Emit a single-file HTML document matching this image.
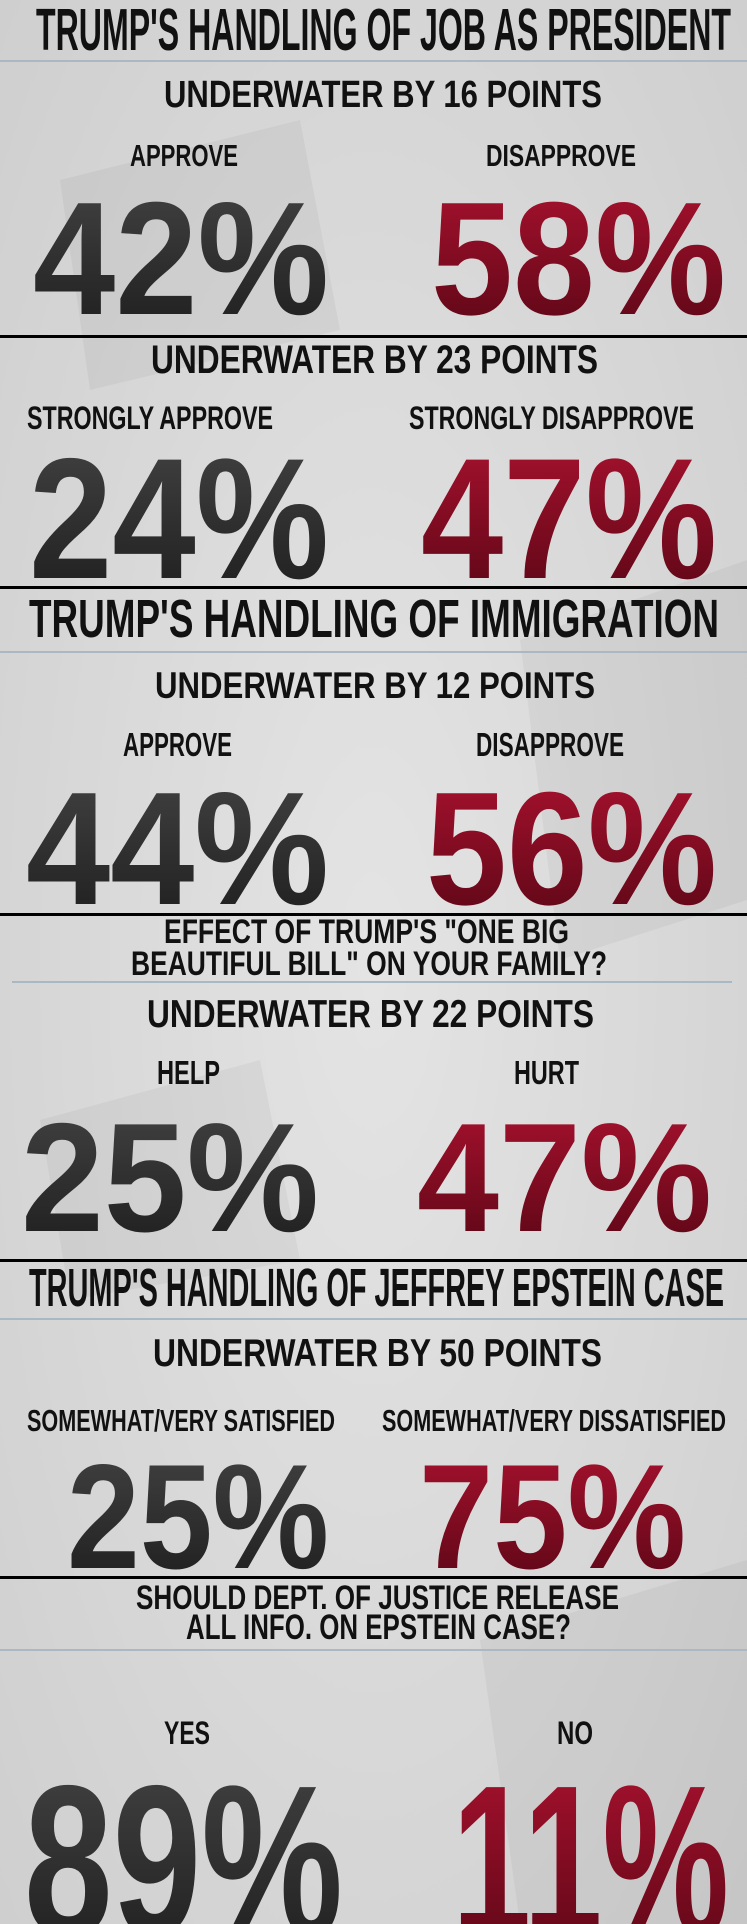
<!DOCTYPE html>
<html><head><meta charset="utf-8"><style>
html,body{margin:0;padding:0;background:#d8d8d8;}
svg{display:block;}
text{font-family:"Liberation Sans Narrow","Liberation Sans",sans-serif;font-weight:bold;}
</style></head><body>
<svg width="747" height="1924" viewBox="0 0 747 1924" xmlns="http://www.w3.org/2000/svg">
<defs>
<linearGradient id="dk" x1="0" y1="0" x2="0" y2="1"><stop offset="0" stop-color="#444"/><stop offset="1" stop-color="#1c1c1c"/></linearGradient>
<linearGradient id="rd" x1="0" y1="0" x2="0" y2="1"><stop offset="0" stop-color="#ad1230"/><stop offset="1" stop-color="#560614"/></linearGradient>
<radialGradient id="bg" cx="0.5" cy="0.5" r="0.7"><stop offset="0" stop-color="#e4e4e4"/><stop offset="1" stop-color="#cfcfcf"/></radialGradient>
</defs>
<rect width="747" height="1924" fill="url(#bg)"/>
<g fill="#000" opacity="0.04">
<polygon points="60,180 300,120 340,330 90,390"/>
<polygon points="520,640 747,560 747,900 560,960"/>
<polygon points="40,1120 260,1060 300,1260 70,1300"/>
<polygon points="480,1640 747,1560 747,1924 520,1924"/>
</g>
<!-- lines -->
<g fill="#aab8c4">
<rect x="0" y="60" width="747" height="2"/>
<rect x="0" y="651" width="747" height="2"/>
<rect x="12" y="981" width="720" height="2"/>
<rect x="0" y="1318" width="747" height="2"/>
<rect x="0" y="1649" width="747" height="2"/>
</g>
<g fill="#000">
<rect x="0" y="335" width="747" height="3"/>
<rect x="0" y="586" width="747" height="3"/>
<rect x="0" y="913" width="747" height="3"/>
<rect x="0" y="1259" width="747" height="3"/>
<rect x="0" y="1576" width="747" height="3"/>
</g>
<g fill="#111" lengthAdjust="spacingAndGlyphs">
<text x="36" y="50" font-size="59" textLength="695" lengthAdjust="spacingAndGlyphs">TRUMP'S HANDLING OF JOB AS PRESIDENT</text>
<text x="164" y="107" font-size="38" textLength="438" lengthAdjust="spacingAndGlyphs">UNDERWATER BY 16 POINTS</text>
<text x="130" y="166" font-size="31" textLength="108" lengthAdjust="spacingAndGlyphs">APPROVE</text>
<text x="486" y="166" font-size="31" textLength="150" lengthAdjust="spacingAndGlyphs">DISAPPROVE</text>
<text x="151" y="373" font-size="40" textLength="447" lengthAdjust="spacingAndGlyphs">UNDERWATER BY 23 POINTS</text>
<text x="27" y="429" font-size="32" textLength="246" lengthAdjust="spacingAndGlyphs">STRONGLY APPROVE</text>
<text x="409" y="429" font-size="32" textLength="285" lengthAdjust="spacingAndGlyphs">STRONGLY DISAPPROVE</text>
<text x="29" y="637" font-size="54" textLength="690" lengthAdjust="spacingAndGlyphs">TRUMP'S HANDLING OF IMMIGRATION</text>
<text x="155" y="698" font-size="37" textLength="440" lengthAdjust="spacingAndGlyphs">UNDERWATER BY 12 POINTS</text>
<text x="123" y="756" font-size="33" textLength="109" lengthAdjust="spacingAndGlyphs">APPROVE</text>
<text x="476" y="756" font-size="33" textLength="148" lengthAdjust="spacingAndGlyphs">DISAPPROVE</text>
<text x="164" y="943" font-size="34" textLength="405" lengthAdjust="spacingAndGlyphs">EFFECT OF TRUMP'S "ONE BIG</text>
<text x="131" y="975" font-size="34" textLength="476" lengthAdjust="spacingAndGlyphs">BEAUTIFUL BILL" ON YOUR FAMILY?</text>
<text x="147" y="1027" font-size="39" textLength="447" lengthAdjust="spacingAndGlyphs">UNDERWATER BY 22 POINTS</text>
<text x="157" y="1084" font-size="33" textLength="63" lengthAdjust="spacingAndGlyphs">HELP</text>
<text x="514" y="1084" font-size="33" textLength="65" lengthAdjust="spacingAndGlyphs">HURT</text>
<text x="29" y="1306" font-size="54" textLength="695" lengthAdjust="spacingAndGlyphs">TRUMP'S HANDLING OF JEFFREY EPSTEIN CASE</text>
<text x="153" y="1366" font-size="39" textLength="449" lengthAdjust="spacingAndGlyphs">UNDERWATER BY 50 POINTS</text>
<text x="27" y="1431" font-size="31" textLength="308" lengthAdjust="spacingAndGlyphs">SOMEWHAT/VERY SATISFIED</text>
<text x="382" y="1431" font-size="31" textLength="344" lengthAdjust="spacingAndGlyphs">SOMEWHAT/VERY DISSATISFIED</text>
<text x="136" y="1609" font-size="34" textLength="483" lengthAdjust="spacingAndGlyphs">SHOULD DEPT. OF JUSTICE RELEASE</text>
<text x="186" y="1639" font-size="35" textLength="385" lengthAdjust="spacingAndGlyphs">ALL INFO. ON EPSTEIN CASE?</text>
<text x="164" y="1744" font-size="32" textLength="46" lengthAdjust="spacingAndGlyphs">YES</text>
<text x="557" y="1744" font-size="32" textLength="36" lengthAdjust="spacingAndGlyphs">NO</text>
</g>
<g>
<text x="33" y="314" font-size="161" textLength="296" lengthAdjust="spacingAndGlyphs" fill="url(#dk)">42%</text>
<text x="431" y="314" font-size="161" textLength="295" lengthAdjust="spacingAndGlyphs" fill="url(#rd)">58%</text>
<text x="29" y="578" font-size="172" textLength="300" lengthAdjust="spacingAndGlyphs" fill="url(#dk)">24%</text>
<text x="421" y="578" font-size="172" textLength="296" lengthAdjust="spacingAndGlyphs" fill="url(#rd)">47%</text>
<text x="26" y="904" font-size="161" textLength="303" lengthAdjust="spacingAndGlyphs" fill="url(#dk)">44%</text>
<text x="426" y="904" font-size="161" textLength="291" lengthAdjust="spacingAndGlyphs" fill="url(#rd)">56%</text>
<text x="21" y="1231" font-size="155" textLength="298" lengthAdjust="spacingAndGlyphs" fill="url(#dk)">25%</text>
<text x="417" y="1231" font-size="155" textLength="295" lengthAdjust="spacingAndGlyphs" fill="url(#rd)">47%</text>
<text x="67" y="1568" font-size="149" textLength="262" lengthAdjust="spacingAndGlyphs" fill="url(#dk)">25%</text>
<text x="419" y="1568" font-size="149" textLength="267" lengthAdjust="spacingAndGlyphs" fill="url(#rd)">75%</text>
<text x="24" y="1935" font-size="215" textLength="319" lengthAdjust="spacingAndGlyphs" fill="url(#dk)">89%</text>
<text x="452" y="1935" font-size="215" textLength="277" lengthAdjust="spacingAndGlyphs" fill="url(#rd)">11%</text>
</g>
</svg>
</body></html>
